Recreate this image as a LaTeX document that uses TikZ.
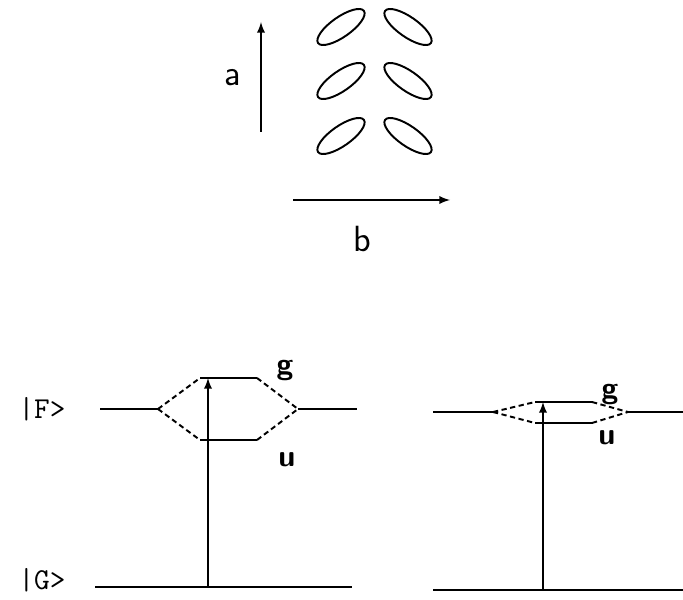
\documentclass[tikz,border=0pt]{standalone}
\usepackage{tikz}
\usetikzlibrary{arrows.meta, positioning, shapes.geometric}

\tikzset{
  blob/.style={draw, ellipse, minimum width=1.12cm, minimum height=0.4cm, inner sep=0pt},
  lbl/.style={font=\huge\sffamily, inner sep=1pt},
  sym/.style={font=\LARGE\sffamily\bfseries, inner sep=1pt},
  ket/.style={font=\LARGE\ttfamily, inner sep=1pt},
  split/.style={dashed, dash pattern=on 3pt off 2pt}
}

\begin{document}
\begin{tikzpicture}[>=latex, line width=1.1pt, x=0.02cm, y=0.02cm]
    \useasboundingbox (0,0) rectangle (683,599);

    % molecules in the cell
    \foreach \yy [count=\i] in {572,518,463} {
        \node[blob, rotate=35] (l\i) at (341,\yy) {};
        \node[blob, rotate=-35] (r\i) at (408,\yy) {};
    }

    \coordinate (a0) at (261,467);
    \coordinate (a1) at (261,577);
    \draw[->] (a0) -- (a1);
    \node[lbl] (la) at (233,521) {a};

    \coordinate (b0) at (293,399);
    \coordinate (b1) at (450,399);
    \draw[->] (b0) -- (b1);
    \node[lbl] (lb) at (362,360) {b};

    % strong splitting
    \node[ket] (kF) at (42,190) {|F>};
    \node[ket] (kG) at (42,19) {|G>};

    \coordinate (F0) at (100,190);
    \coordinate (Fl) at (158,190);
    \coordinate (Fr) at (298,190);
    \coordinate (F1) at (357,190);
    \coordinate (g0) at (200,221);
    \coordinate (g1) at (257,221);
    \coordinate (u0) at (200,159);
    \coordinate (u1) at (257,159);
    \coordinate (G0) at (95,12);
    \coordinate (G1) at (352,12);

    \draw (F0) -- (Fl);
    \draw (Fr) -- (F1);
    \draw[split] (Fl) -- (g0);
    \draw (g0) -- (g1);
    \draw[split] (g1) -- (Fr);
    \draw[split] (Fl) -- (u0);
    \draw (u0) -- (u1);
    \draw[split] (u1) -- (Fr);
    \draw (G0) -- (G1);
    \draw[->] (G0 -| 208,0) -- (g0 -| 208,0);
    \node[sym] (gA) at (285,228) {g};
    \node[sym] (uA) at (287,139) {u};

    % weak splitting
    \coordinate (H0) at (433,187);
    \coordinate (Hl) at (493,187);
    \coordinate (Hr) at (628,187);
    \coordinate (H1) at (683,187);
    \coordinate (h0) at (535,197);
    \coordinate (h1) at (592,197);
    \coordinate (v0) at (535,176);
    \coordinate (v1) at (592,176);
    \coordinate (K0) at (433,9);
    \coordinate (K1) at (683,9);

    \draw (H0) -- (Hl);
    \draw (Hr) -- (H1);
    \draw[split] (Hl) -- (h0);
    \draw (h0) -- (h1);
    \draw[split] (h1) -- (Hr);
    \draw[split] (Hl) -- (v0);
    \draw (v0) -- (v1);
    \draw[split] (v1) -- (Hr);
    \draw (K0) -- (K1);
    \draw[->] (K0 -| 543,0) -- (h0 -| 543,0);
    \node[sym] (gB) at (610,204) {g};
    \node[sym] (uB) at (607,161) {u};

\end{tikzpicture}
\end{document}
